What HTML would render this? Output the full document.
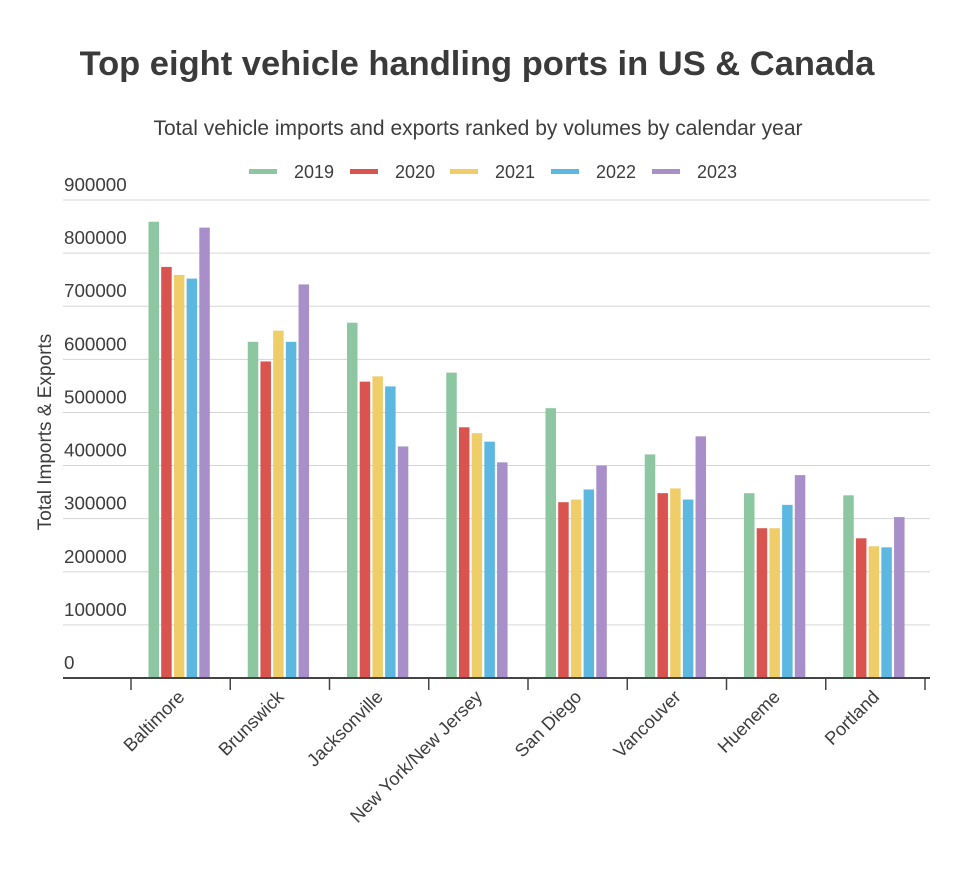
<!DOCTYPE html>
<html><head><meta charset="utf-8"><style>
body{margin:0;background:#fff;}
svg text{font-family:"Liberation Sans",sans-serif;fill:#3d3d3d;}
</style></head><body>
<svg width="960" height="864" viewBox="0 0 960 864">
<text x="477" y="75" text-anchor="middle" font-size="34.5" font-weight="bold" style="fill:#3a3a3a">Top eight vehicle handling ports in US &amp; Canada</text>
<text x="478" y="135" text-anchor="middle" font-size="21">Total vehicle imports and exports ranked by volumes by calendar year</text>
<g id="legend"></g>
<g id="grid"></g>
<g id="bars"></g>
<g id="xaxis"></g>
<text transform="translate(51,432) rotate(-90)" text-anchor="middle" font-size="19">Total Imports &amp; Exports</text>
</svg>
<script>
const categories=["Baltimore","Brunswick","Jacksonville","New York/New Jersey","San Diego","Vancouver","Hueneme","Portland"];
const years=["2019","2020","2021","2022","2023"];
const v2019=[859000,633000,669000,575000,508000,421000,348000,344000];
const v2020=[774000,596000,558000,472000,331000,348000,282000,263000];
const v2021=[759000,654000,568000,461000,336000,357000,282000,248000];
const v2022=[752000,633000,549000,445000,355000,336000,326000,246000];
const v2023=[848000,741000,436000,406000,400000,455000,382000,303000];
const yTicks=[0,100000,200000,300000,400000,500000,600000,700000,800000,900000];
const series=[v2019,v2020,v2021,v2022,v2023];
const colors=["#8cc7a1","#d9534f","#efcd69","#5cb8e0","#a98fc9"];
const NS="http://www.w3.org/2000/svg";
function mk(t,a,p){const e=document.createElementNS(NS,t);for(const k in a)e.setAttribute(k,a[k]);p.appendChild(e);return e;}
const y=v=>678-v*(478/900000);
const bandW=99.25, x0=131;
const xBand=i=>x0+i*bandW;
const grid=document.getElementById('grid');
yTicks.forEach(t=>{
  if(t>0){const l=mk('line',{x1:63,x2:930,y1:y(t),y2:y(t),stroke:'#d6d6d6','stroke-width':1},grid);
  
  }
  const tx=mk('text',{x:64,y:y(t)-9,'font-size':18.8},grid);tx.textContent=String(t);
  
  
});
const bars=document.getElementById('bars');
categories.forEach((c,i)=>{
  series.forEach((s,j)=>{
    const bx=xBand(i)+17.5+j*12.7;
    const r=mk('rect',{x:bx,y:y(s[i]),width:10.5,height:678-y(s[i]),fill:colors[j]},bars);
    
    
  });
});
const xa=document.getElementById('xaxis');
mk('line',{x1:63,x2:930,y1:678,y2:678,stroke:'#444','stroke-width':2},xa);
for(let i=0;i<=categories.length;i++){
  const l=mk('line',{x1:xBand(i),x2:xBand(i),y1:678,y2:690,stroke:'#444','stroke-width':1.5},xa);
  
  
}
categories.forEach((c,i)=>{
  const cx=xBand(i)+bandW/2+5;
  const t=mk('text',{transform:`translate(${cx},698) rotate(-45)`,'text-anchor':'end','font-size':18.3},xa);
  t.textContent=c;
  
  
});
const lg=document.getElementById('legend');
const lx=[249,350,450,551,652];
years.forEach((yr,j)=>{
  const r=mk('rect',{x:lx[j],y:169,width:28,height:5,fill:colors[j]},lg);
  
  
  const t=mk('text',{x:lx[j]+45,y:178,'font-size':18},lg);t.textContent=yr;
  
  
});
</script>
</body></html>
